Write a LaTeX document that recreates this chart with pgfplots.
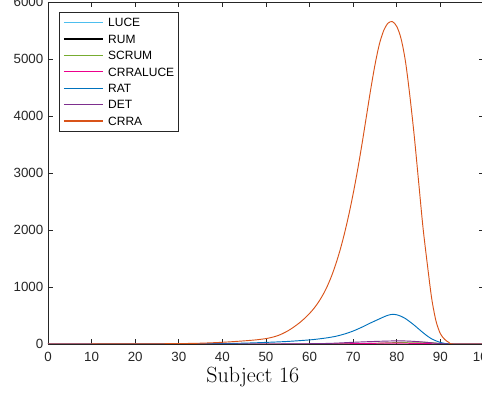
\documentclass[border=0pt]{standalone}
\usepackage{fontspec}
\setmainfont{Liberation Sans}
\newfontfamily\lmroman{Latin Modern Roman}
\usepackage{pgfplots}
\pgfplotsset{compat=1.18}
\usetikzlibrary{calc}
\definecolor{axgray}{rgb}{0.15,0.15,0.15}
\definecolor{mluce}{rgb}{0.301,0.745,0.933}
\definecolor{mscrum}{rgb}{0.466,0.674,0.188}
\definecolor{mrat}{rgb}{0,0.447,0.741}
\definecolor{mdet}{rgb}{0.494,0.184,0.556}
\definecolor{mcrra}{rgb}{0.850,0.325,0.098}
\begin{document}
\begin{tikzpicture}
\begin{axis}[
  name=ax, at={(0,0)}, anchor=south west,
  scale only axis, width=327pt, height=256.5pt,
  xmin=0, xmax=100, ymin=0, ymax=6000,
  xtick={0,10,...,100}, ytick={0,1000,...,6000},
  scaled y ticks=false,
  /pgf/number format/1000 sep={},
  /pgf/number format/assume math mode=true,
  tick align=inside, major tick length=3.75pt,
  axis line style={axgray, line width=0.5pt},
  tick style={axgray, line width=0.5pt},
  tick label style={font=\fontsize{10}{12}\selectfont, text=axgray},
  xticklabel style={yshift=-2.7pt},
  xlabel={\lmroman\fontsize{16.5}{19}\selectfont Subject 16},
  xlabel style={at={(axis description cs:0.47,0)}, anchor=base, yshift=-29pt},
  legend cell align=left,
  legend style={at={(axis description cs:0.0252,0.9708)}, anchor=north west,
    draw=axgray, line width=0.5pt, fill=white,
    font=\fontsize{9}{10}\selectfont,
    inner xsep=3pt, inner ysep=4.5pt,
    nodes={inner sep=0pt, text height=6.5pt, text depth=0pt},
    row sep=5.8pt, column sep=3.75pt},
  legend image code/.code={\draw[#1, line width=0.9pt] (0pt,0pt) -- (29pt,0pt);},
  every axis plot/.append style={line width=0.7pt},
]
% near-zero models
\addplot[mluce, smooth] coordinates {(0,0)(100,0)};
\addlegendentry{LUCE}
\addplot[black, smooth] coordinates {(0,0)(100,0)};
\addlegendentry{RUM}
\addplot[mscrum, smooth] coordinates {(0,0)(60,0)(70,5)(75,12)(80,25)(84,32)(87,28)(89,15)(91,3)(92,0)(100,0)};
\addlegendentry{SCRUM}
\addplot[magenta, smooth] coordinates {(0,0)(60,0)(70,6)(78,15)(85,10)(90,1)(92,0)(100,0)};
\addlegendentry{CRRALUCE}
% RAT
\addplot[mrat, smooth] coordinates {(0,0)(30,2)(40,8)(45,15)(50,28)(55,45)(60,72)(62,88)(64,108)(66,135)(68,175)(70,228)(72,295)(74,370)(76,440)(77,475)(78,505)(79,520)(80,512)(81,485)(82,445)(83,390)(84,330)(85,265)(86,200)(87,140)(88,90)(89,55)(90,28)(91,10)(92,2)(93,0)(100,0)};
\addlegendentry{RAT}
\addplot[mdet, smooth] coordinates {(0,0)(50,0)(60,5)(65,12)(70,30)(75,45)(80,55)(83,50)(86,35)(88,20)(90,8)(92,0)(100,0)};
\addlegendentry{DET}
% CRRA
\addplot[mcrra, smooth] coordinates {(0,0)(10,0.5)(20,2)(25,4)(30,7)(35,14)(40,30)(45,55)(48,75)(50,95)(51,110)(52,130)(53,155)(54,190)(55,230)(56,278)(57,332)(58,392)(59,460)(60,537)(61,625)(62,730)(63,855)(64,1005)(65,1185)(66,1400)(67,1650)(68,1940)(69,2270)(70,2640)(71,3050)(72,3500)(73,3980)(74,4460)(75,4900)(76,5260)(77,5500)(78,5630)(79,5655)(80,5570)(81,5350)(82,4950)(83,4350)(84,3650)(85,2850)(86,2050)(87,1400)(88,800)(89,400)(90,180)(91,80)(92,25)(93,0)(100,0)};
\addlegendentry{CRRA}
\end{axis}
\pgfresetboundingbox
\path[use as bounding box] ($(ax.south west)+(-36pt,-43.5pt)$) rectangle ($(ax.south west)+(325.5pt,258pt)$);
\end{tikzpicture}
\end{document}
